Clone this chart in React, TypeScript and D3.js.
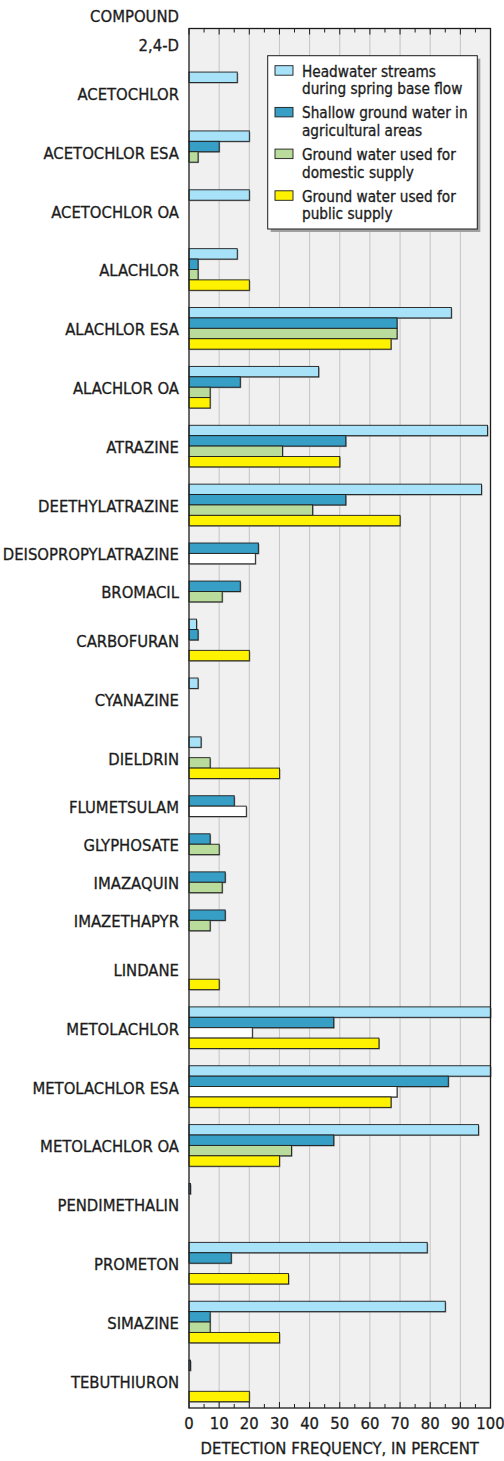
import * as d3 from 'd3';
import { useEffect, useRef } from 'react';

// null = not analyzed for that group, 0 = analyzed but not detected
const compounds = [
  '2,4-D', 'ACETOCHLOR', 'ACETOCHLOR ESA', 'ACETOCHLOR OA', 'ALACHLOR', 'ALACHLOR ESA',
  'ALACHLOR OA', 'ATRAZINE', 'DEETHYLATRAZINE', 'DEISOPROPYLATRAZINE', 'BROMACIL',
  'CARBOFURAN', 'CYANAZINE', 'DIELDRIN', 'FLUMETSULAM', 'GLYPHOSATE', 'IMAZAQUIN',
  'IMAZETHAPYR', 'LINDANE', 'METOLACHLOR', 'METOLACHLOR ESA', 'METOLACHLOR OA',
  'PENDIMETHALIN', 'PROMETON', 'SIMAZINE', 'TEBUTHIURON'
];

const headwater = [
  null, 16, 20, 20, 16, 87, 43, 99, 97, null, null, 2.5, 3, 4, null, null, null,
  null, 0, 100, 100, 96, 0.5, 79, 85, 0.5
];
const shallow = [
  0, 0, 10, 0, 3, 69, 17, 52, 52, 23, 17, 3, 0, 0, 15, 7, 12, 12, 0, 48, 86, 48, 0, 14, 7, 0
];
const domestic = [
  0, 0, 3, 0, 3, 69, 7, 31, 41, 22, 11, 0, 0, 7, 19, 10, 11, 7, 0, 21, 69, 34, 0, 0, 7, 0
];
const publicSupply = [
  null, 0, 0, 0, 20, 67, 7, 50, 70, null, null, 20, 0, 30, null, null, null,
  null, 10, 63, 67, 30, 0, 33, 30, 20
];

// domestic bars printed without fill in the original figure
const domesticNoFill = ['DEISOPROPYLATRAZINE', 'FLUMETSULAM', 'METOLACHLOR', 'METOLACHLOR ESA'];

const seriesNames = [
  ['Headwater streams', 'during spring base flow'],
  ['Shallow ground water in', 'agricultural areas'],
  ['Ground water used for', 'domestic supply'],
  ['Ground water used for', 'public supply']
];
const seriesColors = ['#a8e2f9', '#379fc6', '#b9dc9c', '#fff200'];

const xTicks = [0, 10, 20, 30, 40, 50, 60, 70, 80, 90, 100];

const FONT = "'Liberation Sans Narrow', 'DejaVu Sans Condensed', 'Arial Narrow', sans-serif";

const App = () => {
  const ref = useRef<SVGSVGElement | null>(null);

  useEffect(() => {
    if (!ref.current) return;
    const svg = d3.select(ref.current);
    svg.selectAll('*').remove();

    const width = 504;
    const height = 1461;
    const left = 189;
    const right = 490.5;
    const top = 28.5;
    const bottom = 1408;
    const ink = '#1c1c1c';

    svg.attr('width', width).attr('height', height);

    const series = [headwater, shallow, domestic, publicSupply];

    // each compound gets one slot per analyzed group, groups separated by a gap
    const gapUnits = 1.66;
    let cursor = 0;
    const groups = compounds.map((name, i) => {
      const slots = series.map((s, k) => ({ k, v: s[i] })).filter(d => d.v !== null);
      const start = cursor;
      cursor += slots.length + gapUnits;
      return { name, start, slots };
    });
    const totalUnits = cursor - gapUnits;

    const x = d3.scaleLinear().domain([0, 100]).range([left, right]);
    const y = d3.scaleLinear().domain([0, totalUnits]).range([34, 1401.7]);

    // plot background
    svg.append('rect')
      .attr('x', left).attr('y', top)
      .attr('width', right - left).attr('height', bottom - top)
      .attr('fill', '#f0f0f0');

    // grid lines
    svg.append('g').selectAll('line')
      .data(xTicks.slice(1, -1))
      .enter().append('line')
      .attr('x1', d => x(d)).attr('x2', d => x(d))
      .attr('y1', top).attr('y2', bottom)
      .attr('stroke', '#c4c4c4').attr('stroke-width', 1);

    // bars
    const barG = svg.append('g');
    groups.forEach(g => {
      g.slots.forEach((s, j) => {
        const v = s.v as number;
        if (!(v > 0)) return;
        const y0 = y(g.start + j);
        const y1 = y(g.start + j + 1);
        const noFill = s.k === 2 && domesticNoFill.includes(g.name);
        barG.append('rect')
          .attr('x', x(0) + 1).attr('y', y0 + 1)
          .attr('width', x(v) - x(0)).attr('height', y1 - y0)
          .attr('fill', '#8a8a8a');
        barG.append('rect')
          .attr('x', x(0)).attr('y', y0)
          .attr('width', x(v) - x(0)).attr('height', y1 - y0)
          .attr('fill', noFill ? '#ffffff' : seriesColors[s.k])
          .attr('stroke', ink).attr('stroke-width', 0.9);
      });
    });

    // frame
    svg.append('rect')
      .attr('x', left).attr('y', top)
      .attr('width', right - left).attr('height', bottom - top)
      .attr('fill', 'none').attr('stroke', ink).attr('stroke-width', 1.3);

    // inward ticks, top and bottom
    const minor = d3.range(0, 101, 5);
    const tickG = svg.append('g').attr('stroke', ink).attr('stroke-width', 1);
    minor.forEach(t => {
      const len = t % 10 === 0 ? 6 : 4;
      tickG.append('line').attr('x1', x(t)).attr('x2', x(t)).attr('y1', top).attr('y2', top + len);
      tickG.append('line').attr('x1', x(t)).attr('x2', x(t)).attr('y1', bottom).attr('y2', bottom - len);
    });

    const label = (sel: d3.Selection<SVGTextElement, any, any, any>, size: number) =>
      sel.attr('font-family', FONT).attr('font-size', size)
        .attr('fill', ink).attr('stroke', ink).attr('stroke-width', 0.3);

    // tick labels
    svg.append('g').selectAll('text')
      .data(xTicks)
      .enter().append('text')
      .attr('x', d => x(d)).attr('y', 1429)
      .attr('text-anchor', 'middle')
      .call(label, 16.5)
      .text(d => d);

    svg.append('text')
      .attr('x', (left + right) / 2).attr('y', 1454)
      .attr('text-anchor', 'middle')
      .call(label, 16.5)
      .text('DETECTION FREQUENCY, IN PERCENT');

    // category labels
    svg.append('text')
      .attr('x', 179).attr('y', 22.3)
      .attr('text-anchor', 'end')
      .call(label, 16.5)
      .text('COMPOUND');

    svg.append('g').selectAll('text')
      .data(groups)
      .enter().append('text')
      .attr('x', 179)
      .attr('y', g => y(g.start + g.slots.length / 2) + 7)
      .attr('text-anchor', 'end')
      .call(label, 16.5)
      .text(g => g.name);

    // legend
    const lx = 267.7, ly = 55.7, lw = 209.6, lh = 173.3;
    svg.append('rect')
      .attr('x', lx + 3).attr('y', ly + 3).attr('width', lw).attr('height', lh)
      .attr('fill', '#a0a0a0');
    svg.append('rect')
      .attr('x', lx).attr('y', ly).attr('width', lw).attr('height', lh)
      .attr('fill', '#ffffff').attr('stroke', ink).attr('stroke-width', 1);

    const legend = svg.append('g');
    seriesNames.forEach((lines, i) => {
      const ey = 65.7 + i * 41.7;
      legend.append('rect')
        .attr('x', 275).attr('y', ey).attr('width', 18).attr('height', 9.5)
        .attr('fill', seriesColors[i]).attr('stroke', ink).attr('stroke-width', 0.9);
      lines.forEach((line, j) => {
        legend.append('text')
          .attr('x', 302).attr('y', ey + 11 + j * 17.5)
          .call(label, 15.2)
          .text(line);
      });
    });
  }, []);

  return <svg ref={ref} style={{ position: 'absolute', left: 0, top: 0 }} />;
};

export default App;
